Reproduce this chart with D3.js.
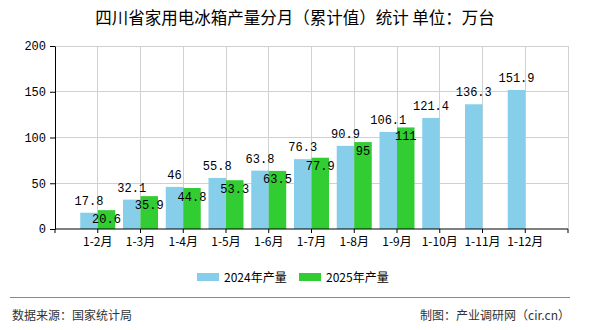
<!DOCTYPE html>
<html><head><meta charset="utf-8">
<script src="https://cdn.jsdelivr.net/npm/d3@7"></script>
<style>body{margin:0;background:#fff}svg{display:block}</style>
</head><body>
<script>
const categories = ["1-2月","1-3月","1-4月","1-5月","1-6月","1-7月","1-8月","1-9月","1-10月","1-11月","1-12月"];
const values2024 = [17.8,32.1,46,55.8,63.8,76.3,90.9,106.1,121.4,136.3,151.9];
const values2025 = [20.6,35.9,44.8,53.3,63.5,77.9,95,111];
const yTicks = [0,50,100,150,200];
const seriesNames = ["2024年产量","2025年产量"];
const colors = ["#87ceeb","#32cd32"];

(function(){
const W=590,H=330;
const svg=d3.select("body").append("svg").attr("width",W).attr("height",H);
const mL=55,mR=568,mT=46,mB=229;
const slots = categories.concat([""]);
const x=d3.scaleBand().domain(slots).range([mL,mR]).padding(0);
const pos = c => x(c)+x.bandwidth();
const y=d3.scaleLinear().domain([0,200]).range([mB,mT]);
const bw=17.5;
const cn="'Noto Sans CJK SC','Noto Sans',sans-serif";
const mono="'Liberation Mono','DejaVu Sans Mono',monospace";

svg.append("text").attr("x",295).attr("y",24).attr("text-anchor","middle")
 .style("font-family",cn).style("font-size","16.5px").attr("fill","#000")
 .text("四川省家用电冰箱产量分月（累计值）统计 单位：万台");

const g=svg.append("g");
g.selectAll(".hg").data(yTicks.filter(d=>d>0)).enter().append("line")
 .attr("x1",mL).attr("x2",mR).attr("y1",d=>y(d)).attr("y2",d=>y(d))
 .attr("stroke","#d0d0d0").attr("stroke-width",1).attr("shape-rendering","crispEdges");
g.selectAll(".vg").data(slots).enter().append("line")
 .attr("x1",d=>pos(d)).attr("x2",d=>pos(d)).attr("y1",mT).attr("y2",mB)
 .attr("stroke","#d0d0d0").attr("stroke-width",1).attr("shape-rendering","crispEdges");

g.selectAll(".b1").data(values2024).enter().append("rect")
 .attr("x",(d,i)=>pos(categories[i])-bw).attr("width",bw)
 .attr("y",d=>y(d)).attr("height",d=>mB-y(d)).attr("fill",colors[0]);
g.selectAll(".b2").data(values2025).enter().append("rect")
 .attr("x",(d,i)=>pos(categories[i])).attr("width",bw)
 .attr("y",d=>y(d)).attr("height",d=>mB-y(d)).attr("fill",colors[1]);

g.selectAll(".l1").data(values2024).enter().append("text")
 .attr("x",(d,i)=>pos(categories[i])-bw/2).attr("y",d=>y(d)-8)
 .attr("text-anchor","middle").style("font-family",mono).style("font-size","12px").attr("fill","#000")
 .text(d=>d);
g.selectAll(".l2").data(values2025).enter().append("text")
 .attr("x",(d,i)=>pos(categories[i])+bw/2).attr("y",d=>y(d)+12.5)
 .attr("text-anchor","middle").style("font-family",mono).style("font-size","12px").attr("fill","#000")
 .text(d=>d);

const ya=svg.append("g").attr("transform",`translate(${mL},0)`)
 .call(d3.axisLeft(y).tickValues(yTicks).tickSize(5).tickSizeOuter(0).tickPadding(4));
ya.select(".domain").attr("stroke","#000");
ya.selectAll("line").attr("stroke","#000");
ya.selectAll("text").style("font-family",mono).style("font-size","12px").attr("fill","#000");

const xa=svg.append("g").attr("transform",`translate(0,${mB})`);
xa.append("line").attr("x1",mL).attr("x2",mR).attr("y1",0).attr("y2",0).attr("stroke","#000");
xa.selectAll(".t").data([mL].concat(slots.map(pos))).enter().append("line")
 .attr("x1",d=>d).attr("x2",d=>d).attr("y1",0).attr("y2",4).attr("stroke","#000");
xa.selectAll(".xl").data(categories).enter().append("text")
 .attr("x",d=>pos(d)).attr("y",17).attr("text-anchor","middle")
 .style("font-family",cn).style("font-size","12px").attr("fill","#000").text(d=>d);

const lg=svg.append("g");
const lx=[197,299];
seriesNames.forEach((s,i)=>{
 lg.append("rect").attr("x",lx[i]).attr("y",273).attr("width",22).attr("height",8).attr("fill",colors[i]);
 lg.append("text").attr("x",lx[i]+27).attr("y",281.5).style("font-family",cn).style("font-size","12px").attr("fill","#000").text(s);
});

svg.append("line").attr("x1",10).attr("x2",570).attr("y1",297.5).attr("y2",297.5).attr("stroke","#888").attr("stroke-width",1);
svg.append("text").attr("x",12).attr("y",319.5).style("font-family",cn).style("font-size","12px").attr("fill","#333").text("数据来源：国家统计局");
svg.append("text").attr("x",570).attr("y",319.5).attr("text-anchor","end").style("font-family",cn).style("font-size","12px").attr("fill","#333").text("制图：产业调研网（cir.cn）");
})();
</script>
</body></html>
